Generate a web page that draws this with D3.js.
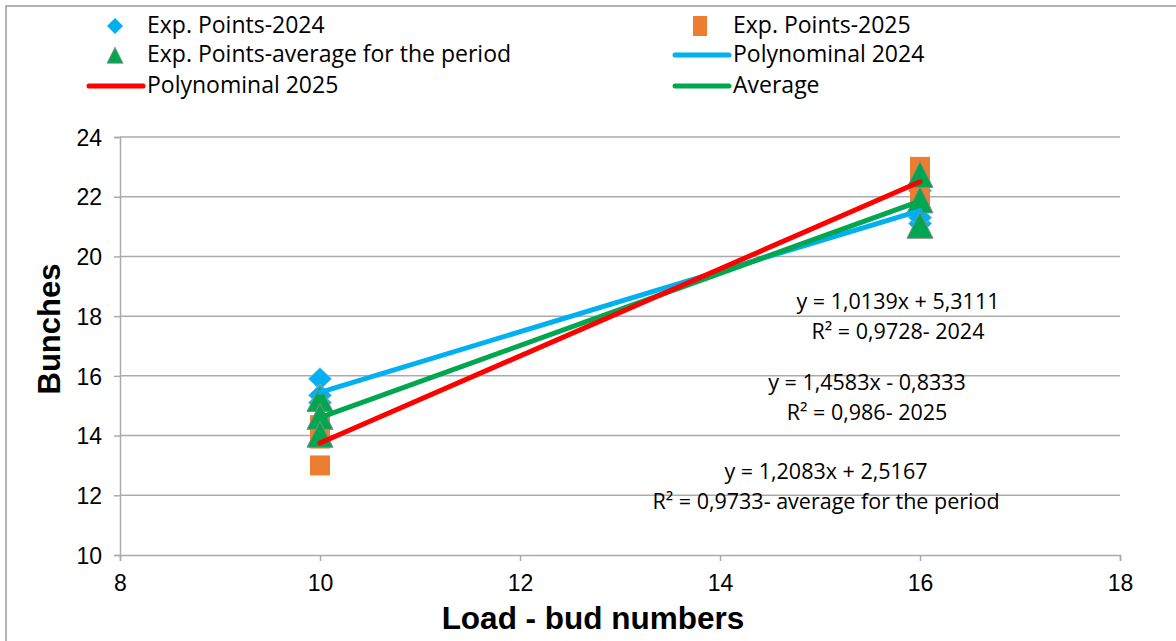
<!DOCTYPE html>
<html>
<head>
<meta charset="utf-8">
<script src="https://cdn.jsdelivr.net/npm/d3@7"></script>
<style>
  html, body { margin: 0; padding: 0; background: #fff; }
  svg { display: block; }
</style>
</head>
<body>
<svg id="chart" width="1176" height="641"></svg>
<script>
// Load (bud numbers) at which bunches were counted
const loads = [10, 10, 10, 16, 16, 16];

// Experimental points per season
const bunches2024 = [15.9, 15.35, 15.1, 21.1, 21.3, 22.2];
const bunches2025 = [13.0, 13.9, 14.35, 22.0, 22.5, 23.0];
const bunchesAverage = [15.2, 14.6, 14.0, 21.0, 21.85, 22.7];

// Linear trend coefficients [slope, intercept]
const trend2024 = [1.0139, 5.3111];
const trend2025 = [1.4583, -0.8333];
const trendAverage = [1.2083, 2.5167];
const trendRange = [10, 16];

// Equation labels
const eqLabels = [
  ["y = 1,0139x + 5,3111", "R² = 0,9728- 2024"],
  ["y = 1,4583x - 0,8333", "R² = 0,986- 2025"],
  ["y = 1,2083x + 2,5167", "R² = 0,9733- average for the period"]
];

// Axis ticks
const xTicks = [8, 10, 12, 14, 16, 18];
const yTicks = [10, 12, 14, 16, 18, 20, 22, 24];

const COL = {
  blue: "#00B0F0",
  orange: "#ED7D31",
  green: "#00A650",
  red: "#FF0000",
  grid: "#ABABAB"
};

const svg = d3.select("#chart");

// outer chart frame
svg.append("rect")
  .attr("x", 6).attr("y", 6).attr("width", 1300).attr("height", 800)
  .attr("fill", "none").attr("stroke", "#9a9a9a").attr("stroke-width", 1.5);

const plot = { left: 120, right: 1120, top: 137, bottom: 555 };
const x = d3.scaleLinear().domain([8, 18]).range([plot.left, plot.right]);
const y = d3.scaleLinear().domain([10, 24]).range([plot.bottom, plot.top]);

// horizontal gridlines
svg.append("g").selectAll("line").data(yTicks.filter(d => d !== 10)).join("line")
  .attr("x1", plot.left).attr("x2", plot.right)
  .attr("y1", d => y(d)).attr("y2", d => y(d))
  .attr("stroke", COL.grid).attr("stroke-width", 1.5);

// y axis
const yAxis = svg.append("g").attr("transform", `translate(${plot.left},0)`)
  .call(d3.axisLeft(y).tickValues(yTicks).tickSize(6).tickPadding(12).tickFormat(d3.format("d")));
yAxis.select(".domain").attr("stroke", COL.grid).attr("stroke-width", 1.5);
yAxis.selectAll(".tick line").attr("stroke", COL.grid).attr("stroke-width", 1.5);
yAxis.selectAll(".tick text")
  .attr("font-family", "Liberation Sans, Arial, sans-serif")
  .attr("font-size", 23).attr("fill", "#000").attr("dy", "0.36em");

// x axis
const xAxis = svg.append("g").attr("transform", `translate(0,${plot.bottom})`)
  .call(d3.axisBottom(x).tickValues(xTicks).tickSize(6).tickPadding(14).tickFormat(d3.format("d")));
xAxis.select(".domain").attr("stroke", COL.grid).attr("stroke-width", 1.5);
xAxis.selectAll(".tick line").attr("stroke", COL.grid).attr("stroke-width", 1.5);
xAxis.selectAll(".tick text")
  .attr("font-family", "Liberation Sans, Arial, sans-serif")
  .attr("font-size", 23).attr("fill", "#000");

// axis titles
svg.append("text")
  .attr("transform", `translate(60,${(plot.top + plot.bottom) / 2 - 17}) rotate(-90)`)
  .attr("text-anchor", "middle")
  .attr("font-family", "Liberation Sans, Arial, sans-serif")
  .attr("font-weight", "bold").attr("font-size", 31)
  .text("Bunches");

svg.append("text")
  .attr("x", 593).attr("y", 629)
  .attr("text-anchor", "middle")
  .attr("font-family", "Liberation Sans, Arial, sans-serif")
  .attr("font-weight", "bold").attr("font-size", 31.5)
  .text("Load - bud numbers");

// marker shapes
const diamondPath = (w, h) => `M0,${-h / 2}L${w / 2},0L0,${h / 2}L${-w / 2},0Z`;
const trianglePath = (w, h) => `M0,${-h * 0.55}L${w / 2},${h * 0.45}L${-w / 2},${h * 0.45}Z`;

// 2024 points
svg.append("g").selectAll("path").data(bunches2024).join("path")
  .attr("transform", (d, i) => `translate(${x(loads[i])},${y(d)})`)
  .attr("d", diamondPath(23, 22))
  .attr("fill", COL.blue).attr("stroke", "#5fc0ee").attr("stroke-width", 1);

// 2025 points
svg.append("g").selectAll("rect").data(bunches2025).join("rect")
  .attr("x", (d, i) => x(loads[i]) - 10).attr("y", d => y(d) - 10)
  .attr("width", 20).attr("height", 20)
  .attr("fill", COL.orange);

// average points
svg.append("g").selectAll("path").data(bunchesAverage).join("path")
  .attr("transform", (d, i) => `translate(${x(loads[i])},${y(d)})`)
  .attr("d", trianglePath(26, 26))
  .attr("fill", COL.green).attr("stroke", "#8a8a8a").attr("stroke-width", 1);

// trend lines
const trends = [
  { c: trend2024, color: COL.blue },
  { c: trendAverage, color: COL.green },
  { c: trend2025, color: COL.red }
];
const line = d3.line().x(d => x(d[0])).y(d => y(d[1]));
svg.append("g").selectAll("path").data(trends).join("path")
  .attr("d", t => line(trendRange.map(v => [v, t.c[0] * v + t.c[1]])))
  .attr("fill", "none").attr("stroke", t => t.color)
  .attr("stroke-width", 5).attr("stroke-linecap", "round");

// equation labels
const eqPos = [
  { cx: 898, y1: 309 },
  { cx: 867, y1: 390 },
  { cx: 826, y1: 479 }
];
const eqG = svg.append("g")
  .attr("font-family", "Open Sans, sans-serif").attr("font-size", 21.5).attr("fill", "#000")
  .attr("text-anchor", "middle");
eqLabels.forEach((lab, i) => {
  eqG.append("text").attr("x", eqPos[i].cx).attr("y", eqPos[i].y1).text(lab[0]);
  eqG.append("text").attr("x", eqPos[i].cx).attr("y", eqPos[i].y1 + 30).text(lab[1]);
});

// legend
const legendItems = [
  { label: "Exp. Points-2024", type: "diamond", color: COL.blue, x: 147, y: 26 },
  { label: "Exp. Points-2025", type: "square", color: COL.orange, x: 733, y: 26 },
  { label: "Exp. Points-average for the period", type: "triangle", color: COL.green, x: 147, y: 55 },
  { label: "Polynominal 2024", type: "line", color: COL.blue, x: 733, y: 55 },
  { label: "Polynominal 2025", type: "line", color: COL.red, x: 147, y: 86 },
  { label: "Average", type: "line", color: COL.green, x: 733, y: 86 }
];
const lg = svg.append("g");
legendItems.forEach(it => {
  const g = lg.append("g").attr("transform", `translate(${it.x},${it.y})`);
  if (it.type === "diamond") {
    g.append("path").attr("transform", "translate(-32,0)").attr("d", diamondPath(16, 16)).attr("fill", it.color);
  } else if (it.type === "square") {
    g.append("rect").attr("x", -40).attr("y", -10).attr("width", 14).attr("height", 20).attr("fill", it.color);
  } else if (it.type === "triangle") {
    g.append("path").attr("transform", "translate(-32,1)").attr("d", trianglePath(16, 16))
      .attr("fill", it.color).attr("stroke", "#8a8a8a").attr("stroke-width", 0.8);
  } else {
    g.append("line").attr("x1", -58).attr("x2", -4).attr("y1", 0).attr("y2", 0)
      .attr("stroke", it.color).attr("stroke-width", 5).attr("stroke-linecap", "round");
  }
  g.append("text").attr("x", 0).attr("y", 6.5)
    .attr("font-family", "Open Sans, sans-serif").attr("font-size", 23).attr("fill", "#000")
    .text(it.label);
});
</script>
</body>
</html>
